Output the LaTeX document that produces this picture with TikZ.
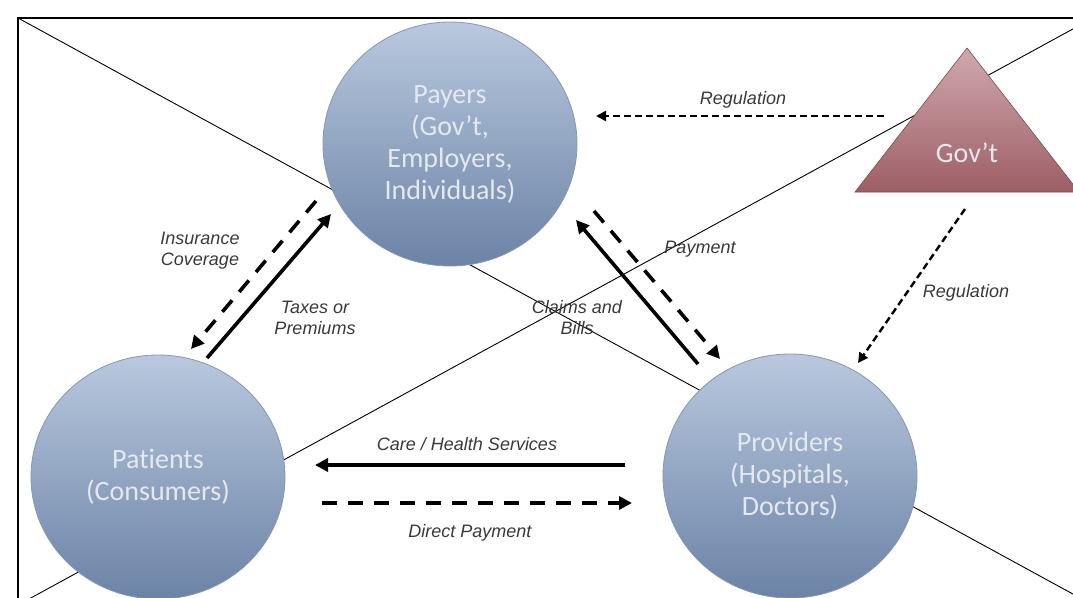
\documentclass[tikz,border=0pt]{standalone}
\usepackage{fontspec}
\newfontfamily\calib{Carlito}[Ligatures={NoCommon}]
\newfontfamily\arl{Liberation Sans}
\usetikzlibrary{shapes.geometric,arrows.meta}
\definecolor{ctop}{HTML}{B9C8DE}
\definecolor{cbot}{HTML}{6B83A6}
\definecolor{cedge}{HTML}{8597B3}
\definecolor{ttop}{HTML}{CFA9AD}
\definecolor{tbot}{HTML}{9E5E66}
\definecolor{ctext}{HTML}{E4E9F0}
\definecolor{ltext}{HTML}{3A3A3A}
\begin{document}
\begin{tikzpicture}[x=1pt,y=-1pt,
  bubble/.style={ellipse, minimum width=254pt, minimum height=244pt, inner sep=0pt,
    top color=ctop, bottom color=cbot, draw=cedge, line width=0.8pt, text=ctext,
    font=\calib\fontsize{28}{32}\selectfont, align=center},
  lbl/.style={text=ltext, font=\arl\itshape\fontsize{18}{21}\selectfont, align=center, inner sep=0pt},
  flow/.style={line width=3.6pt, -{Triangle[length=13pt,width=13pt]}},
  flowd/.style={flow, dash pattern=on 15pt off 11pt},
  reg/.style={line width=2.4pt, dash pattern=on 7pt off 4pt, -{Triangle[length=10pt,width=10pt]}},
  xline/.style={line width=0.9pt}]
\useasboundingbox (0,0) rectangle (1073,597);
\clip (0,0) rectangle (1073,597);
\fill[white] (0,0) rectangle (1073,597);
% placeholder cross and frame
\coordinate (ftl) at (18,18);
\coordinate (fbr) at (1093,605);
\coordinate (fbl) at (18,605);
\coordinate (ftr) at (1093,18);
\draw[xline] (ftl) -- (fbr);
\draw[xline] (fbl) -- (ftr);
\draw[line width=1.5pt] (fbl) -- (ftl) -- (ftr);
% shapes
\node[bubble] (payers) at (450,144) {Payers\\(Gov’t,\\Employers,\\Individuals)};
\node[bubble] (patients) at (158,477) {Patients\\(Consumers)};
\node[bubble] (providers) at (790,476) {Providers\\(Hospitals,\\Doctors)};
\shade[top color=ttop, bottom color=tbot, draw=tbot!80!black, line width=0.6pt]
  (967,48) -- (1079,192) -- (855,192) -- cycle;
\node[text=ctext, font=\calib\fontsize{28}{32}\selectfont] (gov) at (967,153) {Gov’t};
% arrow endpoints
\coordinate (r1a) at (884,116); \coordinate (r1b) at (596,116);
\coordinate (r2a) at (965,209); \coordinate (r2b) at (858,363);
\coordinate (ina) at (316,201); \coordinate (inb) at (191,349);
\coordinate (txa) at (207,358); \coordinate (txb) at (331,214);
\coordinate (cla) at (698,364); \coordinate (clb) at (576,220);
\coordinate (pya) at (594,211); \coordinate (pyb) at (720,359);
\coordinate (cra) at (625,465); \coordinate (crb) at (315,465);
\coordinate (dra) at (322,503); \coordinate (drb) at (632,503);
\draw[reg] (r1a) -- (r1b);
\draw[reg] (r2a) -- (r2b);
\draw[flowd] (ina) -- (inb);
\draw[flow] (txa) -- (txb);
\draw[flow] (cla) -- (clb);
\draw[flowd] (pya) -- (pyb);
\draw[flow] (cra) -- (crb);
\draw[flowd] (dra) -- (drb);
% labels
\node[lbl] (lreg1) at (743,100) {Regulation};
\node[lbl] (lins) at (200,251) {Insurance\\Coverage};
\node[lbl] (ltax) at (315,318) {Taxes or\\Premiums};
\node[lbl] (lpay) at (700,249) {Payment};
\node[lbl] (lclaim) at (577,318) {Claims and\\Bills};
\node[lbl] (lreg2) at (966,293) {Regulation};
\node[lbl] (lcare) at (467,444) {Care / Health Services};
\node[lbl] (ldir) at (470,533) {Direct Payment};
\end{tikzpicture}
\end{document}
